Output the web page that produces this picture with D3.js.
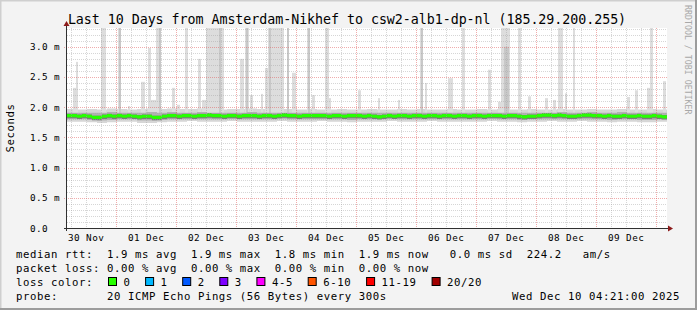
<!DOCTYPE html>
<html><head><meta charset="utf-8">
<script src="https://cdn.jsdelivr.net/npm/d3@7"></script>
<style>
html,body{margin:0;padding:0;background:#f3f3f3;}
svg{display:block;}
text{font-family:"DejaVu Sans Mono",monospace;fill:#000;white-space:pre;}
</style>
</head><body>
<svg id="chart" width="697" height="310"></svg>
<script>
// ---------------- data ----------------
const title = "Last 10 Days from Amsterdam-Nikhef to csw2-alb1-dp-nl (185.29.200.255)";
const startTime = Date.UTC(2025, 10, 30, 4, 21);
const endTime = Date.UTC(2025, 11, 10, 4, 21);
const dayLabels = ["30 Nov","01 Dec","02 Dec","03 Dec","04 Dec","05 Dec","06 Dec","07 Dec","08 Dec","09 Dec"];
const yTickValues = [0, 0.5, 1.0, 1.5, 2.0, 2.5, 3.0];
const yTickLabels = ["0.0","0.5 m","1.0 m","1.5 m","2.0 m","2.5 m","3.0 m"];
const yAxisTitle = "Seconds";

// median rtt (ms), 2-hour bins
const median = [
 1.86,1.86,1.85,1.86,1.85,1.83,1.83,1.85,1.86,1.85,
 1.86,1.85,1.86,1.85,1.84,1.85,1.85,1.83,1.83,1.85,
 1.86,1.86,1.85,1.86,1.86,1.85,1.86,1.86,1.87,1.86,
 1.86,1.85,1.86,1.86,1.85,1.86,1.86,1.86,1.85,1.86,
 1.86,1.85,1.86,1.87,1.86,1.86,1.85,1.86,1.86,1.86,
 1.86,1.86,1.85,1.86,1.86,1.85,1.86,1.86,1.86,1.85,
 1.86,1.85,1.84,1.85,1.86,1.85,1.86,1.86,1.85,1.86,
 1.86,1.85,1.86,1.86,1.85,1.86,1.86,1.85,1.86,1.86,
 1.85,1.86,1.86,1.85,1.86,1.86,1.86,1.85,1.86,1.86,
 1.85,1.84,1.85,1.85,1.86,1.87,1.87,1.86,1.87,1.86,
 1.85,1.85,1.86,1.87,1.87,1.86,1.86,1.85,1.86,1.85,
 1.85,1.86,1.85,1.85,1.86,1.85,1.85,1.86,1.85,1.84
];
// smoke envelopes (ms), 4-hour bins
const smokeOuterLo = [
 1.76,1.76,1.75,1.74,1.75,1.76,1.76,1.74,1.74,1.75,
 1.76,1.76,1.77,1.76,1.76,1.76,1.77,1.76,1.76,1.76,
 1.76,1.77,1.76,1.76,1.76,1.77,1.76,1.76,1.75,1.76,
 1.76,1.76,1.77,1.76,1.76,1.76,1.77,1.76,1.76,1.76,
 1.76,1.76,1.77,1.76,1.76,1.75,1.76,1.76,1.77,1.76,
 1.76,1.77,1.76,1.76,1.75,1.76,1.76,1.75,1.75,1.76
];
const smokeOuterHi = [
 1.97,1.96,1.97,1.96,1.98,1.97,1.96,1.97,1.98,1.97,
 1.98,1.97,1.97,1.98,1.97,1.96,1.97,1.97,1.98,1.97,
 1.96,1.97,1.97,1.96,1.97,1.96,1.96,1.97,1.96,1.96,
 1.97,1.96,1.96,1.97,1.96,1.97,1.96,1.96,1.97,1.96,
 1.96,1.97,1.96,1.97,1.96,1.96,1.97,1.96,1.96,1.97,
 1.96,1.96,1.97,1.96,1.96,1.97,1.96,1.96,1.97,1.96
];
const smokeInnerLo = [
 1.80,1.80,1.79,1.78,1.79,1.80,1.80,1.78,1.78,1.79,
 1.80,1.80,1.80,1.80,1.80,1.80,1.81,1.80,1.80,1.80,
 1.80,1.81,1.80,1.80,1.80,1.80,1.80,1.80,1.79,1.80,
 1.80,1.80,1.81,1.80,1.80,1.80,1.80,1.80,1.80,1.80,
 1.80,1.80,1.81,1.80,1.80,1.79,1.80,1.80,1.80,1.80,
 1.80,1.80,1.80,1.80,1.79,1.80,1.80,1.79,1.79,1.80
];
const smokeInnerHi = [
 1.91,1.91,1.91,1.91,1.92,1.91,1.91,1.91,1.92,1.91,
 1.92,1.91,1.91,1.92,1.91,1.91,1.91,1.91,1.92,1.91,
 1.91,1.91,1.91,1.91,1.91,1.91,1.91,1.91,1.91,1.91,
 1.91,1.91,1.91,1.91,1.91,1.91,1.91,1.91,1.91,1.91,
 1.91,1.91,1.91,1.91,1.91,1.91,1.91,1.91,1.91,1.92,
 1.91,1.91,1.92,1.91,1.91,1.92,1.91,1.91,1.91,1.91
];
// spikes: start/end (hours after start), highest ping, second-highest ping (ms)
const spikeStart  = [2.4,3.6,13.6,20.4,24.4,29.6,32.4,33.2,35.6,36.8,42.0,44.0,47.2,52.4,54.0,55.6,60.4,69.2,71.2,73.2,77.6,79.2,80.4,82.0,88.0,90.0,96.0,98.0,103.2,104.0,116.4,124.4,132.4,141.2,143.2,152.4,158.0,168.4,172.4,173.6,180.4,184.4,191.2,194.4,196.4,199.2,202.4,224.0,227.2,232.0,233.2,238.4];
const spikeEnd    = [4.0,4.4,15.6,21.6,25.2,31.2,33.6,35.6,37.2,37.6,43.2,45.2,48.4,53.6,55.6,62.8,62.0,70.8,72.8,74.4,78.4,80.4,82.0,86.8,88.8,91.6,97.2,99.2,104.8,105.6,117.6,125.2,133.2,142.4,144.0,154.4,159.2,169.6,174.0,177.2,181.6,185.6,192.4,195.6,198.4,200.0,203.2,225.2,228.4,233.6,234.4,239.6];
const spikeMax    = [2.32,2.75,3.5,3.5,2.02,2.42,2.98,2.12,3.5,3.5,2.32,2.04,3.5,2.8,2.12,3.5,3.5,2.8,3.5,2.2,2.22,2.65,3.5,3.5,3.5,2.57,3.5,2.2,3.5,2.15,2.28,2.15,2.12,3.5,2.4,2.48,3.5,2.62,2.09,3.5,3.5,2.18,2.15,2.12,3.5,2.23,3.5,2.17,2.28,2.32,3.5,2.43];
const spikeSecond = [0,0,0,3.5,0,0,0,0,0,3.5,0,0,0,0,0,0,3.5,0,3.5,0,0,0,3.5,0,3.5,0,3.5,0,0,0,0,0,0,3.5,0,0,0,0,0,3.0,0,0,0,0,0,0,0,0,0,0,0,0];

const lossLabels = ["0","1","2","3","4-5","6-10","11-19","20/20"];
const lossColors = ["#26ff00","#00b8ff","#0059ff","#7e00ff","#ff00ff","#ff5500","#ff0000","#a10000"];
const legendMedian = "median rtt:  1.9 ms avg  1.9 ms max  1.8 ms min  1.9 ms now   0.0 ms sd  224.2   am/s";
const legendLoss   = "packet loss: 0.00 % avg  0.00 % max  0.00 % min  0.00 % now";
const legendLossColor = "loss color:";
const legendProbe  = "probe:       20 ICMP Echo Pings (56 Bytes) every 300s";
const legendDate   = "Wed Dec 10 04:21:00 2025";
const watermark = "RRDTOOL / TOBI OETIKER";

// ---------------- drawing ----------------
const W = 697, H = 310;
const plot = {l: 67, r: 667, t: 28, b: 228};
const svg = d3.select("#chart");
const HOUR = 3600e3;

svg.append("rect").attr("width", W).attr("height", H).attr("fill", "#f3f3f3");
// frame
svg.append("path").attr("d", `M0,${H} V0 H${W}`).attr("stroke", "#cfcfcf").attr("stroke-width", 3).attr("fill", "none");
svg.append("path").attr("d", `M0,${H-1} H${W-1} V0`).attr("stroke", "#9c9c9c").attr("stroke-width", 2).attr("fill", "none");

const x = d3.scaleUtc().domain([startTime, endTime]).range([plot.l, plot.r]);
const y = d3.scaleLinear().domain([0, 3.311]).range([plot.b, plot.t]);

svg.append("rect").attr("x", plot.l).attr("y", plot.t).attr("width", plot.r - plot.l).attr("height", plot.b - plot.t).attr("fill", "#ffffff");

const g = svg.append("g");
svg.append("clipPath").attr("id", "clip").append("rect")
  .attr("x", plot.l).attr("y", plot.t).attr("width", plot.r - plot.l).attr("height", plot.b - plot.t);
const data = g.append("g").attr("clip-path", "url(#clip)");

// smoke areas (step)
function stepArea(lo, hi, binHours) {
  const pts = lo.map((v, i) => ({t: startTime + i * binHours * HOUR, lo: v, hi: hi[i]}));
  pts.push({t: startTime + lo.length * binHours * HOUR, lo: lo[lo.length - 1], hi: hi[hi.length - 1]});
  return d3.area().curve(d3.curveStepAfter).x(d => x(d.t)).y0(d => y(d.lo)).y1(d => y(d.hi))(pts);
}
data.append("path").attr("d", stepArea(smokeOuterLo, smokeOuterHi, 4)).attr("fill", "#d6d6d6");

// spikes
spikeStart.forEach((s, i) => {
  const x0 = Math.round(x(startTime + s * HOUR)), x1 = Math.max(x0 + 1, Math.round(x(startTime + spikeEnd[i] * HOUR)));
  data.append("rect").attr("x", x0).attr("width", x1 - x0)
    .attr("y", y(spikeMax[i])).attr("height", y(1.9) - y(spikeMax[i])).attr("fill", "#dddddd");
});
spikeStart.forEach((s, i) => {
  if (!spikeSecond[i]) return;
  const xa = x(startTime + s * HOUR), xb = x(startTime + spikeEnd[i] * HOUR);
  const xm = Math.round((xa + xb) / 2);
  const w = Math.max(2, Math.round((xb - xa) / 2));
  data.append("rect").attr("x", xm - Math.floor(w / 2)).attr("width", w)
    .attr("y", y(spikeSecond[i])).attr("height", y(1.9) - y(spikeSecond[i])).attr("fill", "#c8c8c8");
});

data.append("path").attr("d", stepArea(smokeInnerLo, smokeInnerHi, 4)).attr("fill", "#b2b2b2");
// dark core around median
data.append("path").attr("d", stepArea(median.map(m => m - 0.045), median.map(m => m + 0.03), 2)).attr("fill", "#7a7a7a");

// median (loss colour 0)
const medPts = median.map((v, i) => ({t: startTime + i * 2 * HOUR, v}));
medPts.push({t: endTime, v: median[median.length - 1]});
data.append("path")
  .attr("d", d3.area().curve(d3.curveStepAfter).x(d => x(d.t)).y0(d => y(d.v) + 1.6).y1(d => y(d.v) - 1.6)(medPts))
  .attr("fill", lossColors[0]);

// grid
const grid = svg.append("g").attr("shape-rendering", "crispEdges");
const minorCol = "rgba(165,165,165,0.45)", majorCol = "rgba(225,90,90,0.5)";
const minorY = d3.range(1, 34).map(i => i / 10).filter(v => Math.abs(v * 2 - Math.round(v * 2)) > 1e-6);
minorY.forEach(v => grid.append("line").attr("x1", plot.l).attr("x2", plot.r).attr("y1", Math.round(y(v)) + 0.5).attr("y2", Math.round(y(v)) + 0.5)
  .attr("stroke", minorCol).attr("stroke-dasharray", "1,1"));
const minorX = d3.utcHour.every(6).range(new Date(startTime), new Date(endTime)).filter(d => d.getUTCHours() !== 0);
minorX.forEach(d => grid.append("line").attr("x1", Math.round(x(d)) + 0.5).attr("x2", Math.round(x(d)) + 0.5).attr("y1", plot.t).attr("y2", plot.b)
  .attr("stroke", minorCol).attr("stroke-dasharray", "1,1"));
yTickValues.slice(1).forEach(v => grid.append("line").attr("x1", plot.l - 3).attr("x2", plot.r).attr("y1", Math.round(y(v)) + 0.5).attr("y2", Math.round(y(v)) + 0.5)
  .attr("stroke", majorCol).attr("stroke-dasharray", "1,1"));
const days = d3.utcDay.range(new Date(startTime), new Date(endTime));
days.forEach(d => grid.append("line").attr("x1", Math.round(x(d)) + 0.5).attr("x2", Math.round(x(d)) + 0.5).attr("y1", plot.t).attr("y2", plot.b)
  .attr("stroke", majorCol).attr("stroke-dasharray", "1,1"));

// axes
const axisCol = "#303030", arrowCol = "#8c1a1a";
svg.append("line").attr("x1", plot.l - 3).attr("x2", plot.r + 1).attr("y1", plot.b + 0.5).attr("y2", plot.b + 0.5).attr("stroke", axisCol);
svg.append("line").attr("x1", plot.l - 0.5).attr("x2", plot.l - 0.5).attr("y1", plot.b + 3).attr("y2", plot.t - 3).attr("stroke", axisCol);
svg.append("path").attr("d", `M${plot.r + 6},${plot.b + 0.5} L${plot.r + 1},${plot.b - 2.5} L${plot.r + 1},${plot.b + 3.5} Z`).attr("fill", arrowCol);
svg.append("path").attr("d", `M${plot.l - 0.5},${plot.t - 7} L${plot.l - 3.5},${plot.t - 2} L${plot.l + 2.5},${plot.t - 2} Z`).attr("fill", arrowCol);

// y labels
yTickValues.forEach((v, i) => svg.append("text").attr("x", 30).attr("y", y(v) + 3.5)
  .attr("font-size", "9.33px").attr("letter-spacing", "0.4px").text(yTickLabels[i]));
// x labels at noon
dayLabels.forEach((lab, i) => {
  const noon = d3.utcHour.offset(d3.utcDay.floor(new Date(startTime)), 12 + 24 * i);
  svg.append("text").attr("x", x(noon)).attr("y", 241).attr("text-anchor", "middle")
    .attr("font-size", "9.33px").attr("letter-spacing", "0.4px").text(lab);
});
// y axis title
svg.append("text").attr("transform", `translate(14,${(plot.t + plot.b) / 2}) rotate(-90)`).attr("text-anchor", "middle")
  .attr("font-size", "10.67px").attr("letter-spacing", "0.58px").text(yAxisTitle);
// title
svg.append("text").attr("x", 347).attr("y", 23.5).attr("text-anchor", "middle")
  .attr("font-size", "13.33px").attr("letter-spacing", "-0.05px").text(title);
// watermark
svg.append("text").attr("transform", "translate(684.5,5) rotate(90)")
  .attr("font-size", "8.2px").attr("letter-spacing", "0.05px").style("fill", "#a8a8a8").text(watermark);

// legend
const leg = svg.append("g").attr("font-size", "10.67px").attr("letter-spacing", "0.58px");
leg.append("text").attr("x", 16).attr("y", 258).text(legendMedian);
leg.append("text").attr("x", 16).attr("y", 272).text(legendLoss);
leg.append("text").attr("x", 16).attr("y", 286).text(legendLossColor);
leg.append("text").attr("x", 16).attr("y", 300).text(legendProbe);
leg.append("text").attr("x", 680).attr("y", 300).attr("text-anchor", "end").text(legendDate);
let bx = 108.5;
lossLabels.forEach((lab, i) => {
  leg.append("rect").attr("x", bx).attr("y", 277.5).attr("width", 8).attr("height", 8)
    .attr("fill", lossColors[i]).attr("stroke", "#000").attr("stroke-width", 1);
  leg.append("text").attr("x", bx + 15).attr("y", 286).text(lab);
  bx += 30 + 7.1 * lab.length;
});
</script>
</body></html>
